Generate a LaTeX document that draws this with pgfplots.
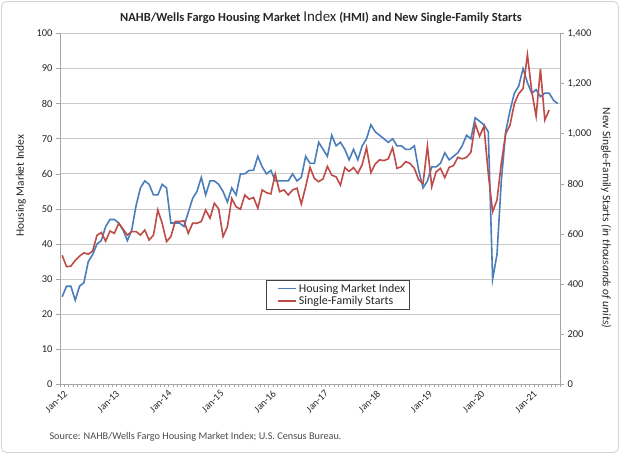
\documentclass[border=0pt]{standalone}
\usepackage{fontspec}
\setmainfont{Carlito}
\usepackage{pgfplots}
\pgfplotsset{compat=1.18}
\usepackage{pgfplotstable}
\definecolor{hmiblue}{HTML}{4A7EBB}
\definecolor{startred}{HTML}{BE4B48}
\definecolor{gridgrey}{HTML}{CACACA}
\definecolor{axisgrey}{HTML}{A6A6A6}
\definecolor{txt}{HTML}{262626}

% month index: 0 = Jan 2012
\pgfplotstableread{
i v
0 25
1 28
2 28
3 24
4 28
5 29
6 35
7 37
8 40
9 41
10 45
11 47
12 47
13 46
14 44
15 41
16 44
17 51
18 56
19 58
20 57
21 54
22 54
23 57
24 56
25 46
26 46
27 46
28 45
29 49
30 53
31 55
32 59
33 54
34 58
35 58
36 57
37 55
38 52
39 56
40 54
41 60
42 60
43 61
44 61
45 65
46 62
47 60
48 61
49 58
50 58
51 58
52 58
53 60
54 58
55 59
56 65
57 63
58 63
59 69
60 67
61 65
62 71
63 68
64 69
65 67
66 64
67 67
68 64
69 68
70 70
71 74
72 72
73 71
74 70
75 69
76 70
77 68
78 68
79 67
80 67
81 68
82 61
83 56
84 58
85 62
86 62
87 63
88 66
89 64
90 65
91 66
92 68
93 71
94 70
95 76
96 75
97 74
98 72
99 30
100 37
101 58
102 72
103 78
104 83
105 85
106 90
107 86
108 83
109 84
110 82
111 83
112 83
113 81
114 80
}\hmi

\pgfplotstableread{
i v
0 515
1 470
2 472
3 495
4 512
5 525
6 520
7 532
8 595
9 606
10 572
11 612
12 603
13 643
14 620
15 596
16 610
17 610
18 596
19 616
20 576
21 596
22 696
23 643
24 570
25 590
26 650
27 650
28 653
29 603
30 643
31 643
32 650
33 696
34 663
35 723
36 700
37 590
38 629
39 742
40 709
41 699
42 756
43 739
44 746
45 703
46 776
47 765
48 760
49 840
50 769
51 776
52 756
53 776
54 783
55 720
56 789
57 866
58 822
59 809
60 820
61 870
62 835
63 828
64 795
65 865
66 850
67 865
68 842
69 877
70 945
71 845
72 880
73 896
74 893
75 900
76 944
77 862
78 869
79 889
80 882
81 862
82 816
83 802
84 951
85 789
86 848
87 862
88 825
89 866
90 873
91 906
92 900
93 906
94 926
95 1040
96 990
97 1030
98 842
99 689
100 735
101 882
102 1000
103 1035
104 1120
105 1160
106 1180
107 1315
108 1170
109 1070
110 1258
111 1055
112 1095
}\starts

\begin{document}
\begin{tikzpicture}[x=1bp,y=1bp]
\useasboundingbox (0,0) rectangle (620,454);
\fill[white] (0,0) rectangle (620,454);
\draw[black!18, line width=0.8bp, rounded corners=5bp] (1.5,1.5) rectangle (618.5,452.5);

\begin{axis}[
  at={(60bp,69.5bp)}, anchor=south west,
  scale only axis, width=500bp, height=351bp,
  xmin=-0.5, xmax=114.5, ymin=0, ymax=100,
  axis x line*=bottom, axis y line*=left,
  axis line style={axisgrey, line width=0.8bp},
  ytick={0,10,...,100},
  ymajorgrids, grid style={gridgrey, line width=0.8bp},
  xtick={0,12,...,108},
  xticklabels={Jan-12,Jan-13,Jan-14,Jan-15,Jan-16,Jan-17,Jan-18,Jan-19,Jan-20,Jan-21},
  minor xtick={-0.5,0.5,...,114.5},
  major x tick style={draw=none},
  minor tick length=3bp,
  tick align=outside, major tick length=4bp,
  tick style={axisgrey, line width=0.6bp},
  xticklabel style={rotate=45, anchor=east, font=\fontsize{10}{12}\selectfont, text=txt, inner sep=1bp, yshift=-5bp, xshift=1bp},
  yticklabel style={font=\fontsize{10.5}{12}\selectfont, text=txt},
  /pgf/number format/assume math mode=true,
  legend style={at={(0.412,0.298)}, anchor=north west, draw=black!75, line width=0.7bp,
    font=\fontsize{12}{14}\selectfont, text=txt, inner xsep=2bp, inner ysep=1.5bp, row sep=-1.5bp},
  legend cell align=left,
  legend image code/.code={\path (0bp,0bp); \draw[#1, line width=1.6bp] (9bp,0bp) -- (27bp,0bp);},
]
\addplot[hmiblue, line width=1.6bp] table[x=i, y=v] {\hmi};
\addlegendentry{Housing Market Index\hspace{12bp}}
\addlegendimage{startred, line width=1.6bp}
\addlegendentry{Single-Family Starts}
\end{axis}

\begin{axis}[
  at={(60bp,69.5bp)}, anchor=south west,
  scale only axis, width=500bp, height=351bp,
  xmin=-0.5, xmax=114.5, ymin=0, ymax=1400,
  axis x line=none, axis y line*=right,
  axis line style={axisgrey, line width=0.8bp},
  ytick={0,200,...,1400},
  tick align=outside, major tick length=4bp,
  tick style={axisgrey, line width=0.6bp},
  yticklabel style={font=\fontsize{10.5}{12}\selectfont, text=txt},
  /pgf/number format/assume math mode=true,
  /pgf/number format/1000 sep={,},
]
\addplot[startred, line width=1.6bp] table[x=i, y=v] {\starts};
\end{axis}

\node[font=\bfseries\fontsize{12.5}{14}\selectfont, text=txt] at (321,437)
  {NAHB/Wells Fargo Housing Market {\mdseries\fontsize{15}{15}\selectfont Index} (HMI) and New Single-Family Starts};
\node[rotate=90, font=\fontsize{11.5}{13}\selectfont, text=txt] at (21,268.5) {Housing Market Index};
\node[rotate=-90, font=\fontsize{11.5}{13}\selectfont, text=txt] at (606,236)
  {New Single-Family Starts \textit{(in thousands\ of\ units)}};
\node[anchor=west, font=\fontsize{10.3}{12}\selectfont, text=black!70] at (46,17)
  {Source: NAHB/Wells Fargo Housing Market Index; U.S. Census Bureau.};
\end{tikzpicture}
\end{document}
